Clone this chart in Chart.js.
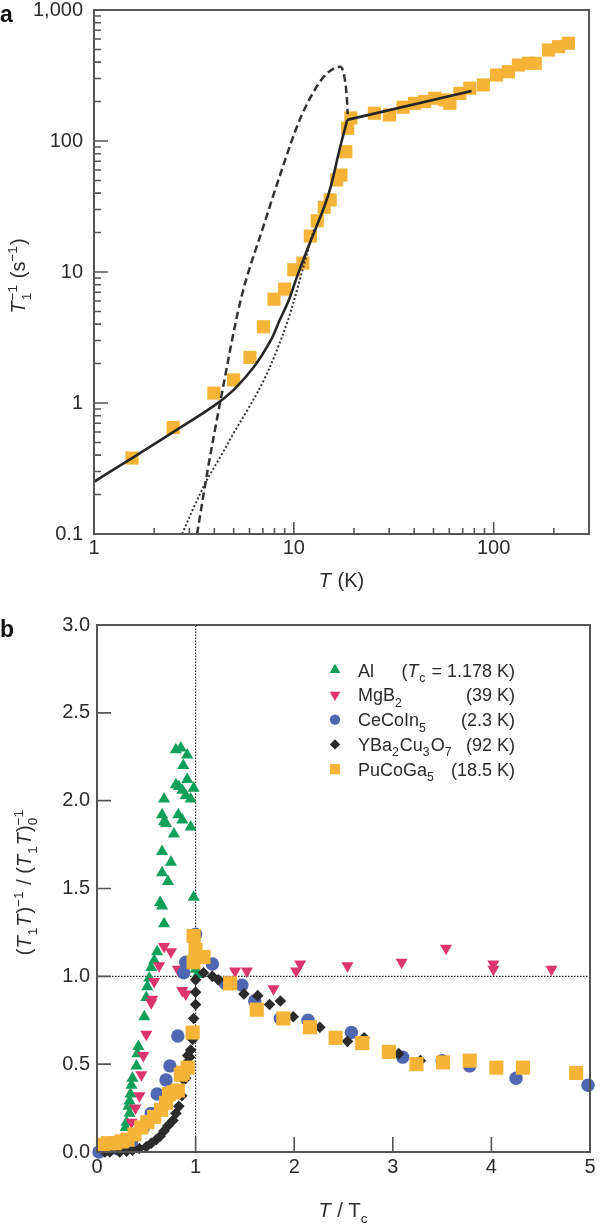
<!DOCTYPE html>
<html>
<head>
<meta charset="utf-8">
<script src="https://cdn.jsdelivr.net/npm/chart.js@4.4.1/dist/chart.umd.min.js"></script>
<style>
  html, body { margin:0; padding:0; background:#ffffff; width:600px; height:1230px; overflow:hidden; }
  canvas { position:absolute; left:0; display:block; }
  #chartA { top:0; }
  #chartB { top:600px; }
</style>
</head>
<body>
<canvas id="chartA" width="600" height="600"></canvas>
<canvas id="chartB" width="600" height="630"></canvas>
<script>
// ================= Panel a data (T1^-1 vs T, PuCoGa5) =================
const aXTicks = [1, 10, 100];
const aYTicks = [0.1, 1, 10, 100, 1000];
const aSquareT    = [1.55, 2.49, 3.98, 5.0, 6.03, 7.04, 7.96, 9.0, 10.0, 11.1, 12.1, 13.1, 14.2, 15.2, 16.4, 17.2, 18.2, 18.6, 19.3, 25.3, 30.1, 35.2, 40.2, 45.2, 50.7, 56.9, 60.4, 67.7, 76, 88.8, 103.5, 118.5, 133, 149, 161.5, 188, 211, 237];
const aSquareRate = [0.38, 0.65, 1.19, 1.5, 2.23, 3.82, 6.2, 7.4, 10.4, 11.7, 18.8, 24.6, 31.2, 35.5, 50.4, 55, 82.8, 125, 150, 163, 158, 181, 194, 200, 212, 206, 194, 231, 253, 268, 319, 338, 380, 392, 392, 495, 525, 557];
// solid fit below Tc
const aFitT    = [1, 1.55, 2.49, 3.98, 5.0, 6.32, 7.66, 8.5, 9.4, 10.4, 12.2, 14.2, 15.3, 16.9, 18.5];
const aFitRate = [0.25, 0.38, 0.60, 0.95, 1.26, 1.89, 3.0, 4.3, 6.0, 9.3, 17.6, 31.5, 44.8, 85, 145];
// solid normal-state line above Tc
const aHighT    = [18.5, 77.5];
const aHighRate = [145, 241];
// dotted curve
const aDotT    = [2.76, 3.16, 3.68, 4.3, 5.0, 5.85, 7.09, 8.28, 9.4, 10.5, 11.9, 12.6];
const aDotRate = [0.1, 0.16, 0.26, 0.39, 0.59, 0.88, 1.5, 2.6, 4.4, 7.8, 15.6, 21];
// dashed curve
const aDashT    = [3.28, 3.68, 4.3, 5.42, 7.09, 8.6, 10.8, 13.7, 15.9, 17.1, 17.9, 18.4, 18.6];
const aDashRate = [0.1, 0.29, 1.05, 6.1, 23, 57, 150, 292, 359, 369, 310, 218, 160];

// ================= Panel b data ((T1T)^-1 normalised vs T/Tc) =================
const bXTicks = [0, 1, 2, 3, 4, 5];
const bYTicks = [0, 0.5, 1, 1.5, 2, 2.5, 3];
const bSeries = ['Al', 'MgB2', 'CeCoIn5', 'YBa2Cu3O7', 'PuCoGa5'];
const bTc     = ['1.178 K', '39 K', '2.3 K', '92 K', '18.5 K'];

const alX = [0.29, 0.30, 0.32, 0.33, 0.33, 0.34, 0.35, 0.36, 0.40, 0.41, 0.42, 0.48, 0.50, 0.51, 0.53, 0.55, 0.58, 0.61, 0.64, 0.66, 0.66, 0.66, 0.66, 0.68, 0.68, 0.68, 0.70, 0.72, 0.75, 0.78, 0.80, 0.80, 0.83, 0.825, 0.85, 0.865, 0.865, 0.875, 0.90, 0.915, 0.915, 0.95, 0.95, 0.98, 0.98, 1.0, 1.02];
const alY = [0.14, 0.17, 0.26, 0.22, 0.29, 0.33, 0.38, 0.42, 0.49, 0.56, 0.60, 0.77, 0.88, 0.94, 0.99, 1.05, 1.09, 1.14, 1.42, 1.40, 1.59, 1.71, 1.92, 1.30, 1.88, 2.01, 1.87, 1.54, 1.65, 1.81, 2.09, 2.29, 2.08, 1.92, 2.30, 2.06, 1.89, 2.20, 2.03, 2.26, 2.12, 2.01, 1.85, 2.07, 1.45, 1.04, 1.01];

const mgX = [0.35, 0.39, 0.43, 0.45, 0.47, 0.50, 0.55, 0.56, 0.58, 0.63, 0.68, 0.75, 0.82, 0.865, 0.90, 1.40, 1.52, 1.79, 2.02, 2.06, 2.54, 3.09, 3.54, 4.02, 4.02, 4.61];
const mgY = [0.17, 0.25, 0.32, 0.44, 0.55, 0.67, 0.85, 0.87, 0.97, 1.06, 1.17, 1.14, 1.04, 0.92, 0.90, 1.03, 1.03, 0.93, 1.03, 1.07, 1.06, 1.08, 1.16, 1.07, 1.04, 1.04];

const ceX = [0.02, 0.20, 0.35, 0.47, 0.55, 0.61, 0.70, 0.74, 0.82, 0.88, 0.90, 1.0, 1.17, 1.30, 1.47, 1.60, 1.86, 2.14, 2.58, 3.10, 3.50, 3.78, 4.25, 4.98];
const ceY = [0.0, 0.02, 0.06, 0.14, 0.22, 0.33, 0.41, 0.49, 0.66, 1.02, 1.08, 1.24, 1.07, 0.96, 0.95, 0.86, 0.76, 0.75, 0.68, 0.54, 0.52, 0.49, 0.42, 0.38];

const ybX = [0.08, 0.13, 0.23, 0.30, 0.36, 0.43, 0.50, 0.55, 0.60, 0.64, 0.68, 0.72, 0.77, 0.80, 0.83, 0.86, 0.88, 0.90, 0.915, 0.92, 0.94, 0.95, 0.97, 0.98, 1.0, 1.0, 1.0, 1.08, 1.17, 1.23, 1.49, 1.63, 1.75, 1.86, 1.99, 2.26, 2.54, 2.71, 3.06, 3.28];
const ybY = [0.0, 0.0, 0.0, 0.005, 0.01, 0.02, 0.03, 0.05, 0.07, 0.09, 0.12, 0.15, 0.18, 0.22, 0.26, 0.32, 0.41, 0.42, 0.51, 0.55, 0.54, 0.58, 0.64, 0.76, 0.84, 0.91, 0.98, 1.02, 1.0, 0.98, 0.90, 0.89, 0.84, 0.86, 0.77, 0.71, 0.63, 0.65, 0.56, 0.52];

const puX = [0.06, 0.11, 0.18, 0.25, 0.31, 0.38, 0.45, 0.51, 0.58, 0.65, 0.70, 0.73, 0.78, 0.82, 0.85, 0.87, 0.92, 0.97, 0.98, 0.98, 1.0, 1.03, 1.08, 1.35, 1.62, 1.89, 2.16, 2.42, 2.69, 2.96, 3.24, 3.51, 3.78, 4.05, 4.32, 4.86];
const puY = [0.04, 0.05, 0.05, 0.06, 0.07, 0.10, 0.14, 0.17, 0.20, 0.24, 0.28, 0.33, 0.34, 0.35, 0.44, 0.45, 0.48, 0.68, 1.08, 1.23, 1.15, 1.11, 1.11, 0.96, 0.81, 0.76, 0.71, 0.65, 0.62, 0.57, 0.50, 0.51, 0.52, 0.48, 0.48, 0.45];

// reference lines: T = Tc and normalised value 1
const refVX = [1, 1], refVY = [0, 3];
const refHX = [0, 5], refHY = [1, 1];

// ================= helpers =================
const FONT = '"Liberation Sans", Arial, Helvetica, sans-serif';
const TXT = '#2b2b2b';
const AXIS = '#555555';
const pts = (xs, ys) => xs.map((x, i) => ({ x: x, y: ys[i] }));
function fontStr(size, italic, bold) { return (italic ? 'italic ' : '') + (bold ? 'bold ' : '') + size + 'px ' + FONT; }

function drawRich(ctx, parts, x, y, size, align) {
  const small = size * 0.68;
  const widths = parts.map(p => {
    if (p.stack) {
      ctx.font = fontStr(small);
      return Math.max(ctx.measureText(p.sub).width, ctx.measureText(p.sup).width) + 1;
    }
    const sz = (p.sub || p.sup) ? small : size;
    ctx.font = fontStr(sz, p.i);
    return ctx.measureText(p.t).width + (p.i ? size * 0.05 : 0) + ((p.sub || p.sup) ? 1 : 0);
  });
  const total = widths.reduce((s, w) => s + w, 0);
  let cx = align === 'center' ? x - total / 2 : (align === 'right' ? x - total : x);
  ctx.textAlign = 'left';
  ctx.textBaseline = 'alphabetic';
  parts.forEach((p, k) => {
    if (p.stack) {
      ctx.font = fontStr(small);
      ctx.fillText(p.sup, cx, y - size * 0.42);
      ctx.fillText(p.sub, cx, y + size * 0.3);
    } else if (p.sub) {
      ctx.font = fontStr(small, p.i);
      ctx.fillText(p.t, cx, y + size * 0.3);
    } else if (p.sup) {
      ctx.font = fontStr(small, p.i);
      ctx.fillText(p.t, cx, y - size * 0.42);
    } else {
      ctx.font = fontStr(size, p.i);
      ctx.fillText(p.t, cx, y);
    }
    cx += widths[k];
  });
}
function chemParts(s) {
  return s.split(/(\d+)/).filter(Boolean).map(t => /^\d+$/.test(t) ? { t: t, sub: true } : { t: t });
}
function drawMarker(ctx, style, r, rot, x, y) {
  ctx.beginPath();
  if (style === 'circle') ctx.arc(x, y, r, 0, Math.PI * 2);
  else if (style === 'rect') { const s = r * Math.SQRT1_2; ctx.rect(x - s, y - s, 2 * s, 2 * s); }
  else if (style === 'rectRot') { ctx.moveTo(x - r, y); ctx.lineTo(x, y - r); ctx.lineTo(x + r, y); ctx.lineTo(x, y + r); ctx.closePath(); }
  else if (style === 'triangle') {
    const a0 = (rot || 0) * Math.PI / 180;
    for (let k = 0; k < 3; k++) {
      const a = a0 + k * 2 * Math.PI / 3;
      const px = x + Math.sin(a) * r, py = y - Math.cos(a) * r;
      if (k) ctx.lineTo(px, py); else ctx.moveTo(px, py);
    }
    ctx.closePath();
  }
  ctx.fill();
}

// ================= Panel a =================
const panelA = {
  id: 'panelA',
  afterDraw(chart) {
    const { ctx, chartArea: a, scales: { x, y } } = chart;
    ctx.save();
    ctx.strokeStyle = AXIS;
    ctx.lineWidth = 1.6;
    ctx.beginPath();
    for (let d = -1; d <= 3; d++) for (let m = 1; m <= 9; m++) {
      const v = m * Math.pow(10, d);
      if (v < y.min * 0.999 || v > y.max * 1.001) continue;
      const py = y.getPixelForValue(v);
      ctx.moveTo(a.left, py); ctx.lineTo(a.left + (m === 1 ? 14 : 7), py);
    }
    for (let d = 0; d <= 2; d++) for (let m = 1; m <= 9; m++) {
      const v = m * Math.pow(10, d);
      if (v > x.max * 1.001) continue;
      const px = x.getPixelForValue(v);
      ctx.moveTo(px, a.bottom); ctx.lineTo(px, a.bottom - (m === 1 ? 12 : 6));
    }
    ctx.stroke();
    ctx.lineWidth = 2;
    ctx.strokeRect(a.left, a.top, a.right - a.left, a.bottom - a.top);
    ctx.fillStyle = TXT;
    drawRich(ctx, [{ t: 'T', i: true }, { t: ' (K)' }], (a.left + a.right) / 2, 587, 20, 'center');
    ctx.translate(18, 276);
    ctx.rotate(-Math.PI / 2);
    drawRich(ctx, [{ t: 'T', i: true }, { stack: true, sub: '1', sup: '\u22121' }, { t: ' (s' }, { t: '\u22121', sup: true }, { t: ')' }], 0, 7, 20, 'center');
    ctx.restore();
    ctx.save();
    ctx.fillStyle = '#111';
    ctx.font = fontStr(23, false, true);
    ctx.textAlign = 'left';
    ctx.textBaseline = 'alphabetic';
    ctx.fillText('a', 0, 22);
    ctx.restore();
  }
};

new Chart(document.getElementById('chartA'), {
  type: 'scatter',
  data: {
    datasets: [
      { label: 'PuCoGa5', data: pts(aSquareT, aSquareRate), pointStyle: 'rect', pointRadius: 9.3, pointHoverRadius: 9.3,
        backgroundColor: '#f5b338', borderWidth: 0, clip: false, order: 5 },
      { label: 'fit', data: pts(aFitT, aFitRate), showLine: true, borderColor: '#262626', borderWidth: 2.6,
        pointRadius: 0, tension: 0.35, order: 1 },
      { label: 'normal', data: pts(aHighT, aHighRate), showLine: true, borderColor: '#262626', borderWidth: 2.6,
        pointRadius: 0, tension: 0, order: 1 },
      { label: 'dotted', data: pts(aDotT, aDotRate), showLine: true, borderColor: '#333333', borderWidth: 2,
        borderDash: [2, 2.2], pointRadius: 0, tension: 0.35, order: 2 },
      { label: 'dashed', data: pts(aDashT, aDashRate), showLine: true, borderColor: '#333333', borderWidth: 2.5,
        borderDash: [7.5, 4], pointRadius: 0, cubicInterpolationMode: 'monotone', tension: 0.4, order: 3 }
    ]
  },
  options: {
    responsive: false, animation: false, devicePixelRatio: 1,
    layout: { padding: { left: 0, top: 10, right: 11, bottom: 0 } },
    plugins: { legend: { display: false }, tooltip: { enabled: false } },
    scales: {
      x: {
        type: 'logarithmic', position: 'bottom', min: 1, max: 300,
        grid: { display: false, drawTicks: false }, border: { display: false },
        afterBuildTicks: s => { s.ticks = aXTicks.map(v => ({ value: v })); },
        afterFit: s => { s.height = 66; s.paddingLeft = 0; s.paddingRight = 0; },
        ticks: { autoSkip: false, maxRotation: 0, minRotation: 0, padding: 2, color: TXT,
                 font: { family: FONT, size: 20 }, callback: v => String(v) }
      },
      y: {
        type: 'logarithmic', position: 'left', min: 0.1, max: 1000,
        grid: { display: false, drawTicks: false }, border: { display: false },
        afterBuildTicks: s => { s.ticks = aYTicks.map(v => ({ value: v })); },
        afterFit: s => { s.width = 94; s.paddingTop = 0; s.paddingBottom = 0; },
        ticks: { autoSkip: false, padding: 11, color: TXT, font: { family: FONT, size: 20 },
                 callback: v => v >= 1000 ? '1,000' : String(v) }
      }
    }
  },
  plugins: [panelA]
});

// ================= Panel b =================
const markerStyles = [
  { style: 'triangle', r: 6.2, rot: 0 },
  { style: 'triangle', r: 6.2, rot: 180 },
  { style: 'circle', r: 5.2, rot: 0 },
  { style: 'rectRot', r: 5.2, rot: 0 },
  { style: 'rect', r: 7.2, rot: 0 }
];
const markerColors = ['#11a05b', '#dc3570', '#4f67b2', '#2b2b2b', '#f5b338'];

const panelB = {
  id: 'panelB',
  afterDraw(chart) {
    const { ctx, chartArea: a, scales: { x, y } } = chart;
    ctx.save();
    ctx.strokeStyle = AXIS;
    ctx.lineWidth = 1.6;
    ctx.beginPath();
    bYTicks.forEach(v => { const py = y.getPixelForValue(v); ctx.moveTo(a.left, py); ctx.lineTo(a.left + 14, py); });
    bXTicks.forEach(v => { const px = x.getPixelForValue(v); ctx.moveTo(px, a.bottom); ctx.lineTo(px, a.bottom - 15); });
    ctx.stroke();
    ctx.lineWidth = 2;
    ctx.strokeRect(a.left, a.top, a.right - a.left, a.bottom - a.top);

    // legend
    const rows = bSeries.length;
    for (let k = 0; k < rows; k++) {
      const cy = 70 + k * 24.8;
      ctx.fillStyle = markerColors[k];
      drawMarker(ctx, markerStyles[k].style, markerStyles[k].r, markerStyles[k].rot, 335, cy);
      ctx.fillStyle = TXT;
      drawRich(ctx, chemParts(bSeries[k]), 358, cy + 6.5, 18, 'left');
      const right = k === 0
        ? [{ t: '(' }, { t: 'T', i: true }, { t: 'c', sub: true }, { t: ' = ' + bTc[k] + ')' }]
        : [{ t: '(' + bTc[k] + ')' }];
      drawRich(ctx, right, 515, cy + 6.5, 18, 'right');
    }

    // axis titles
    ctx.fillStyle = TXT;
    drawRich(ctx, [{ t: 'T', i: true }, { t: ' / T' }, { t: 'c', sub: true }], (a.left + a.right) / 2, 617, 20, 'center');
    ctx.translate(24, 282);
    ctx.rotate(-Math.PI / 2);
    drawRich(ctx, [
      { t: '(' }, { t: 'T', i: true }, { t: '1', sub: true }, { t: 'T', i: true }, { t: ')' }, { t: '\u22121', sup: true },
      { t: ' / (' }, { t: 'T', i: true }, { t: '1', sub: true }, { t: 'T', i: true }, { t: ')' },
      { stack: true, sub: '0', sup: '\u22121' }
    ], 0, 7, 20, 'center');
    ctx.restore();

    ctx.save();
    ctx.fillStyle = '#111';
    ctx.font = fontStr(23, false, true);
    ctx.textAlign = 'left';
    ctx.textBaseline = 'alphabetic';
    ctx.fillText('b', 0, 37);
    ctx.restore();
  }
};

new Chart(document.getElementById('chartB'), {
  type: 'scatter',
  data: {
    datasets: [
      { label: 'Tc', data: pts(refVX, refVY), showLine: true, borderColor: '#222222', borderWidth: 1.2,
        borderDash: [1.5, 1.5], pointRadius: 0, order: 10 },
      { label: 'unity', data: pts(refHX, refHY), showLine: true, borderColor: '#222222', borderWidth: 1.2,
        borderDash: [1.5, 1.5], pointRadius: 0, order: 10 },
      { label: bSeries[0], data: pts(alX, alY), pointStyle: 'triangle', pointRadius: 7, pointHoverRadius: 7,
        backgroundColor: markerColors[0], borderWidth: 0, clip: false, order: 6 },
      { label: bSeries[1], data: pts(mgX, mgY), pointStyle: 'triangle', pointRotation: 180, pointRadius: 7, pointHoverRadius: 7,
        backgroundColor: markerColors[1], borderWidth: 0, clip: false, order: 5 },
      { label: bSeries[2], data: pts(ceX, ceY), pointStyle: 'circle', pointRadius: 6.7, pointHoverRadius: 6.7,
        backgroundColor: markerColors[2], borderWidth: 0, clip: false, order: 4 },
      { label: bSeries[3], data: pts(ybX, ybY), pointStyle: 'rectRot', pointRadius: 5.8, pointHoverRadius: 5.8,
        backgroundColor: markerColors[3], borderWidth: 0, clip: false, order: 3 },
      { label: bSeries[4], data: pts(puX, puY), pointStyle: 'rect', pointRadius: 10, pointHoverRadius: 10,
        backgroundColor: markerColors[4], borderWidth: 0, clip: false, order: 2 }
    ]
  },
  options: {
    responsive: false, animation: false, devicePixelRatio: 1,
    layout: { padding: { left: 0, top: 25, right: 5, bottom: 0 } },
    plugins: { legend: { display: false }, tooltip: { enabled: false } },
    scales: {
      x: {
        type: 'linear', position: 'bottom', min: 0, max: 5,
        grid: { display: false, drawTicks: false }, border: { display: false },
        afterBuildTicks: s => { s.ticks = bXTicks.map(v => ({ value: v })); },
        afterFit: s => { s.height = 78; s.paddingLeft = 0; s.paddingRight = 0; },
        ticks: { autoSkip: false, maxRotation: 0, minRotation: 0, padding: 3, color: TXT,
                 font: { family: FONT, size: 20 }, callback: v => String(v) }
      },
      y: {
        type: 'linear', position: 'left', min: 0, max: 3,
        grid: { display: false, drawTicks: false }, border: { display: false },
        afterBuildTicks: s => { s.ticks = bYTicks.map(v => ({ value: v })); },
        afterFit: s => { s.width = 97; s.paddingTop = 0; s.paddingBottom = 0; },
        ticks: { autoSkip: false, padding: 7, color: TXT, font: { family: FONT, size: 20 },
                 callback: v => Number(v).toFixed(1) }
      }
    }
  },
  plugins: [panelB]
});
</script>
</body>
</html>
